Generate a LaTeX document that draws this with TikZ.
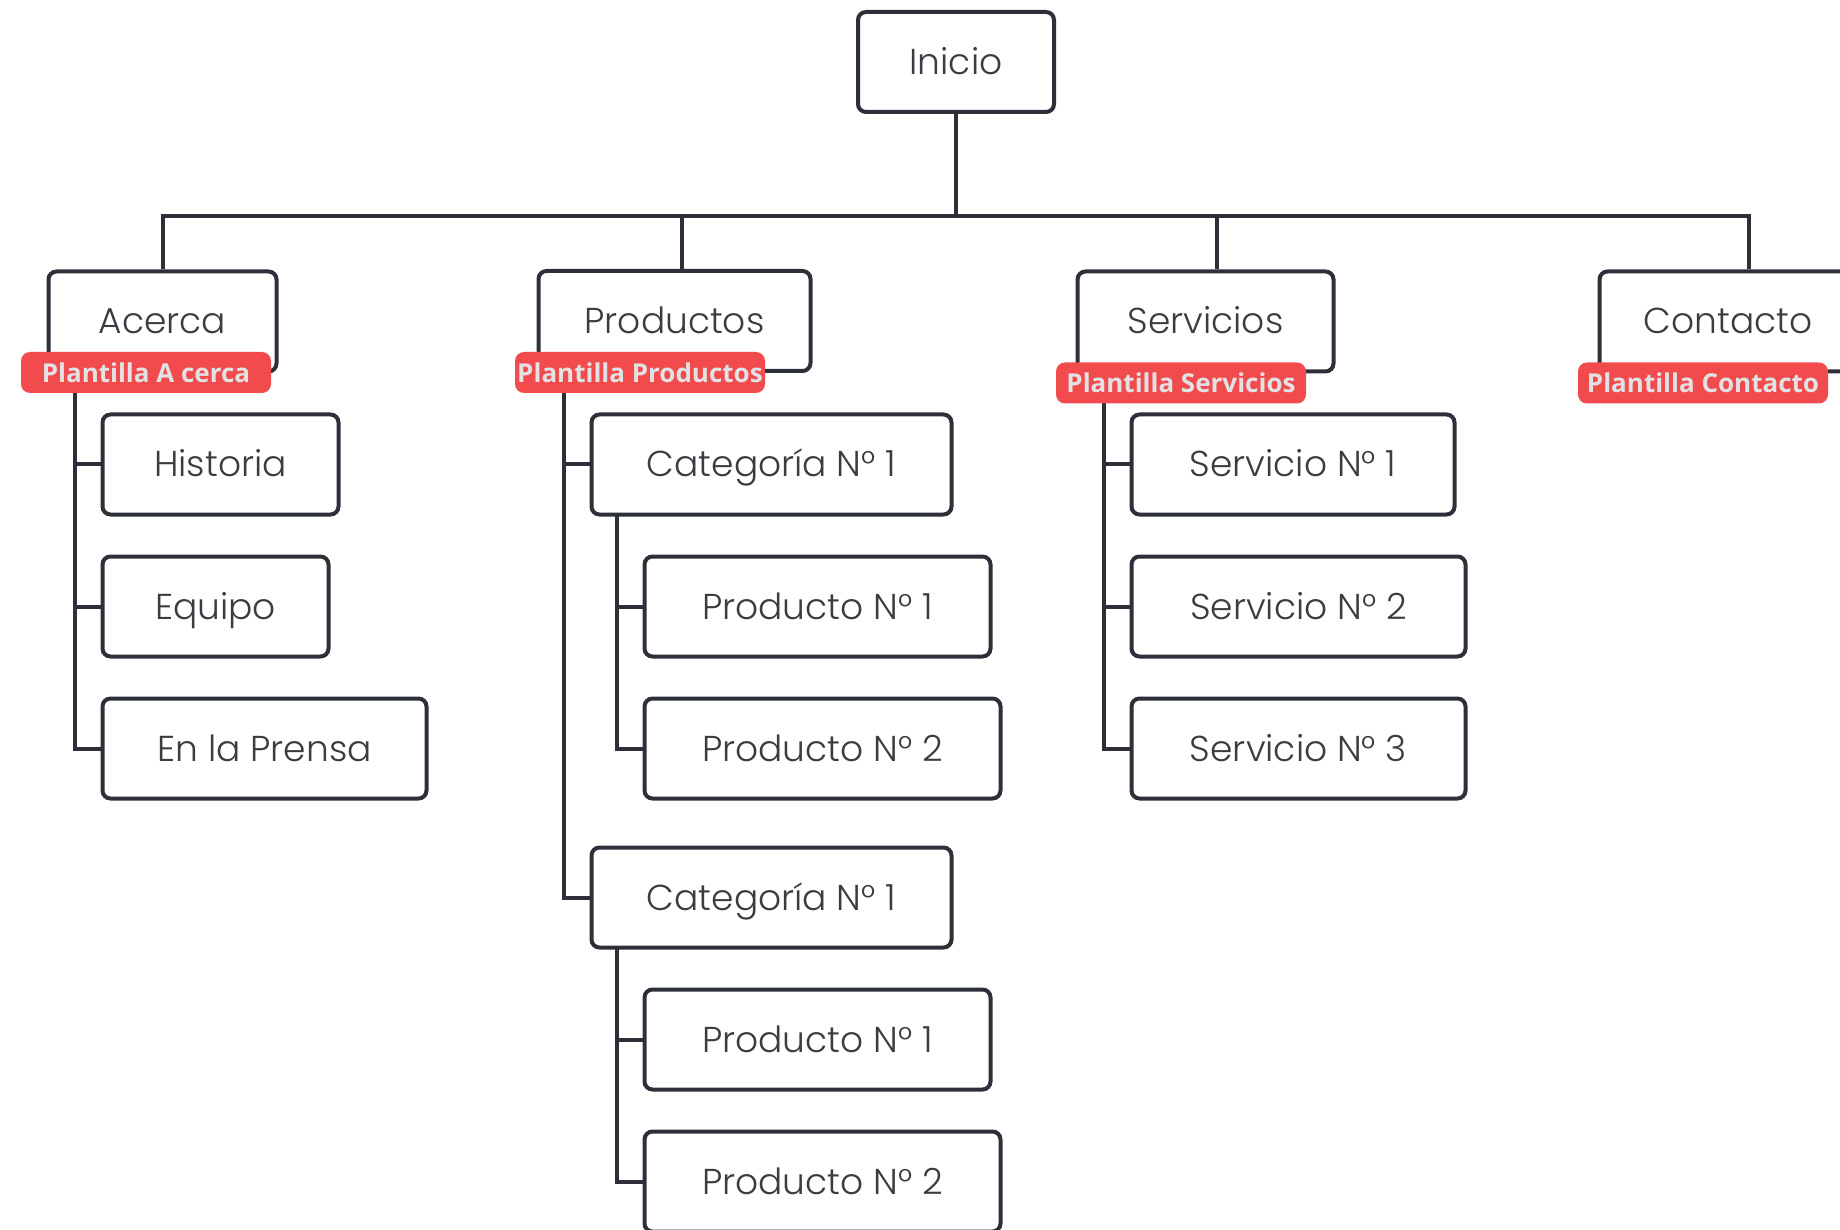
\documentclass[tikz,border=0pt]{standalone}
\usepackage{fontspec}
\setmainfont{Poppins Light}
\newfontfamily\tagfont{Open Sans}
\usepackage{xcolor}
\definecolor{linegray}{RGB}{45,48,56}
\definecolor{textgray}{RGB}{58,60,66}
\definecolor{tagred}{RGB}{242,75,78}
\definecolor{taggray}{RGB}{226,226,228}

\tikzset{
  box/.style={draw=linegray, line width=4pt, rounded corners=8pt, fill=white,
    text=textgray, inner sep=0pt, minimum height=100,
    text height=25pt, text depth=0pt,
    font=\fontsize{36}{38}\selectfont},
  tag/.style={fill=tagred, rounded corners=9pt, text=taggray, inner sep=0pt,
    minimum width=250, minimum height=41,
    font=\tagfont\bfseries\fontsize{26}{28}\selectfont},
  link/.style={draw=linegray, line width=4pt}
}

\begin{document}
\begin{tikzpicture}[x=1pt,y=-1pt]
        \useasboundingbox (0,0) rectangle (1840,1230);
        \clip (0,0) rectangle (1840,1230);

        % top level
        \node[box, minimum width=196] (inicio) at (956,62) {Inicio};
        \node[box, minimum width=228] (acerca) at (162.5,321.5) {Acerca};
        \node[box, minimum width=272] (productos) at (674.5,321) {Productos};
        \node[box, minimum width=256] (servicios) at (1205.5,321.5) {Servicios};
        \node[box, minimum width=257] (contacto) at (1728,321.5) {Contacto};

        % bus
        \coordinate (ta) at (163,216);
        \coordinate (tp) at (682,216);
        \coordinate (ts) at (1217,216);
        \coordinate (tc) at (1749,216);
        \draw[link] (inicio.south) -- (inicio.south |- ta);
        \draw[link] (ta |- acerca.north) -- (ta) -- (tc) -- (tc |- contacto.north);
        \draw[link] (tp) -- (tp |- productos.north);
        \draw[link] (ts) -- (ts |- servicios.north);

        % Acerca
        \node[box, minimum width=236] (historia) at (220.5,464.5) {Historia};
        \node[box, minimum width=226] (equipo) at (215.5,606.5) {Equipo};
        \node[box, minimum width=324] (prensa) at (264.5,748.5) {En la Prensa};
        \draw[link] (75,373) coordinate (ra) |- (prensa.west);
        \draw[link] (ra |- historia.west) -- (historia.west);
        \draw[link] (ra |- equipo.west) -- (equipo.west);

        % Productos
        \node[box, minimum width=360] (cat1) at (771.5,464.5) {Categoría N° 1};
        \node[box, minimum width=346] (prodA1) at (817.5,606.5) {Producto N° 1};
        \node[box, minimum width=356] (prodA2) at (822.5,748.5) {Producto N° 2};
        \node[box, minimum width=360] (cat2) at (771.5,897.5) {Categoría N° 1};
        \node[box, minimum width=346] (prodB1) at (817.5,1039.5) {Producto N° 1};
        \node[box, minimum width=356] (prodB2) at (822.5,1181.5) {Producto N° 2};
        \draw[link] (564,372) coordinate (rp) |- (cat2.west);
        \draw[link] (rp |- cat1.west) -- (cat1.west);
        \draw[link] (617,516) coordinate (rc1) |- (prodA2.west);
        \draw[link] (rc1 |- prodA1.west) -- (prodA1.west);
        \draw[link] (617,949) coordinate (rc2) |- (prodB2.west);
        \draw[link] (rc2 |- prodB1.west) -- (prodB1.west);

        % Servicios
        \node[box, minimum width=323] (serv1) at (1293,464.5) {Servicio N° 1};
        \node[box, minimum width=334] (serv2) at (1298.5,606.5) {Servicio N° 2};
        \node[box, minimum width=334] (serv3) at (1298.5,748.5) {Servicio N° 3};
        \draw[link] (1104,373) coordinate (rs) |- (serv3.west);
        \draw[link] (rs |- serv1.west) -- (serv1.west);
        \draw[link] (rs |- serv2.west) -- (serv2.west);

        % plantillas
        \node[tag] (tagA) at (146,372.5) {Plantilla A cerca};
        \node[tag] (tagP) at (640,372.5) {Plantilla Productos};
        \node[tag] (tagS) at (1181,383) {Plantilla Servicios};
        \node[tag] (tagC) at (1703,383) {Plantilla Contacto};
    \end{tikzpicture}
\end{document}
